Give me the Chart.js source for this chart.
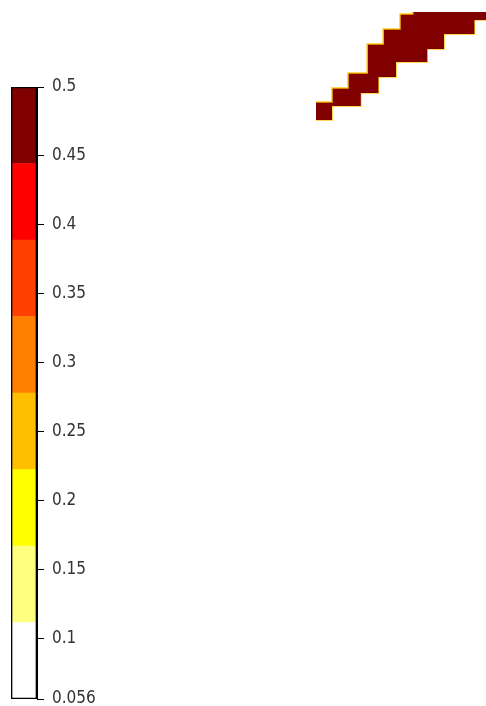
<!DOCTYPE html>
<html lang="es">
<head>
<meta charset="utf-8">
<title>Mapa con escala de colores</title>
<script src="https://cdn.jsdelivr.net/npm/chart.js@4/dist/chart.umd.min.js"></script>
<style>
  html, body { margin: 0; padding: 0; background: #fff; }
  #lienzo { position: relative; width: 486px; height: 706px; overflow: hidden; }
  #lienzo canvas { position: absolute; left: 0; top: 0; }
</style>
</head>
<body>
<div id="lienzo">
  <canvas id="barra-colores" width="120" height="706"></canvas>
  <canvas id="mapa" width="486" height="706"></canvas>
</div>
<script>
// Escala de colores: 8 bandas iguales entre 0.056 y 0.5
const limitesBandas = [0.056, 0.1115, 0.167, 0.2225, 0.278, 0.3335, 0.389, 0.4445, 0.5];
const coloresBandas = ["#ffffff", "#ffff80", "#ffff00", "#ffbf00", "#ff8000", "#ff4000", "#ff0000", "#800000"];
const valoresTicks = [0.056, 0.1, 0.15, 0.2, 0.25, 0.3, 0.35, 0.4, 0.45, 0.5];
const etiquetasTicks = ["0.056", "0.1", "0.15", "0.2", "0.25", "0.3", "0.35", "0.4", "0.45", "0.5"];

// Zona con valor máximo (> 0.45): borde superior e inferior en escalones (lon, lat)
const bordeSupLon = [19, 20, 21, 22.2, 23.2, 24.25, 25.05, 30];
const bordeSupLat = [44.0, 44.93, 45.93, 47.87, 48.87, 49.87, 51, 51];
const bordeInfLon = [19, 20, 21.8, 22.9, 24, 25.95, 27, 28.9, 30];
const bordeInfLat = [42.8, 43.73, 44.6, 45.67, 46.67, 47.53, 48.53, 49.47, 49.47];

const $barra = document.getElementById("barra-colores");
const $mapa = document.getElementById("mapa");

const fuenteEtiquetas = {
  family: '"Liberation Sans Narrow", "DejaVu Sans Condensed", "Liberation Sans", sans-serif',
  size: 17,
};

function armarBandas() {
  const bandas = coloresBandas.map((color, i) => ({
    data: [[limitesBandas[i], limitesBandas[i + 1]]],
    backgroundColor: color,
    borderWidth: 0,
    grouped: false,
    order: 1,
  }));
  // contorno negro de toda la barra, encima de las bandas
  bandas.push({
    data: [[limitesBandas[0], limitesBandas[limitesBandas.length - 1]]],
    backgroundColor: "rgba(0,0,0,0)",
    borderColor: "#000",
    borderWidth: 1,
    borderSkipped: false,
    grouped: false,
    order: 0,
  });
  return bandas;
}

new Chart($barra, {
  type: "bar",
  data: { labels: ["escala"], datasets: armarBandas() },
  options: {
    responsive: false,
    animation: false,
    barPercentage: 1,
    categoryPercentage: 1,
    layout: { padding: { left: 11, top: 87, right: 0, bottom: 7 } },
    scales: {
      x: { display: false },
      y: {
        position: "right",
        min: limitesBandas[0],
        max: limitesBandas[limitesBandas.length - 1],
        afterBuildTicks: (escala) => {
          escala.ticks = valoresTicks.map((v) => ({ value: v }));
        },
        afterFit: (escala) => {
          escala.width = 83;
          escala.paddingTop = 0;
          escala.paddingBottom = 0;
        },
        border: { display: true, color: "#000", width: 1 },
        grid: {
          drawOnChartArea: false,
          drawTicks: true,
          tickLength: 7,
          color: "#000",
        },
        ticks: {
          autoSkip: false,
          padding: 8,
          color: "#333",
          font: fuenteEtiquetas,
          callback: (valor) => etiquetasTicks[valoresTicks.indexOf(valor)] ?? "",
        },
      },
    },
    plugins: { legend: { display: false }, tooltip: { enabled: false } },
  },
});

const puntosSup = bordeSupLon.map((lon, i) => ({ x: lon, y: bordeSupLat[i] }));
const puntosInf = bordeInfLon.map((lon, i) => ({ x: lon, y: bordeInfLat[i] }));

new Chart($mapa, {
  type: "scatter",
  data: {
    datasets: [
      {
        data: puntosSup,
        showLine: true,
        stepped: true,
        fill: "+1",
        backgroundColor: "#800000",
        borderColor: "rgba(255, 200, 0, 0.9)",
        borderWidth: 1.5,
        pointRadius: 0,
      },
      {
        data: puntosInf,
        showLine: true,
        stepped: true,
        fill: false,
        borderColor: "rgba(255, 200, 0, 0.9)",
        borderWidth: 1.5,
        pointRadius: 0,
      },
    ],
  },
  options: {
    responsive: false,
    animation: false,
    layout: { padding: { left: 12, top: 12, right: 0, bottom: 4 } },
    scales: {
      x: { type: "linear", display: false, min: 0, max: 29.625 },
      y: { type: "linear", display: false, min: 4, max: 50 },
    },
    plugins: { legend: { display: false }, tooltip: { enabled: false } },
  },
});
</script>
</body>
</html>
